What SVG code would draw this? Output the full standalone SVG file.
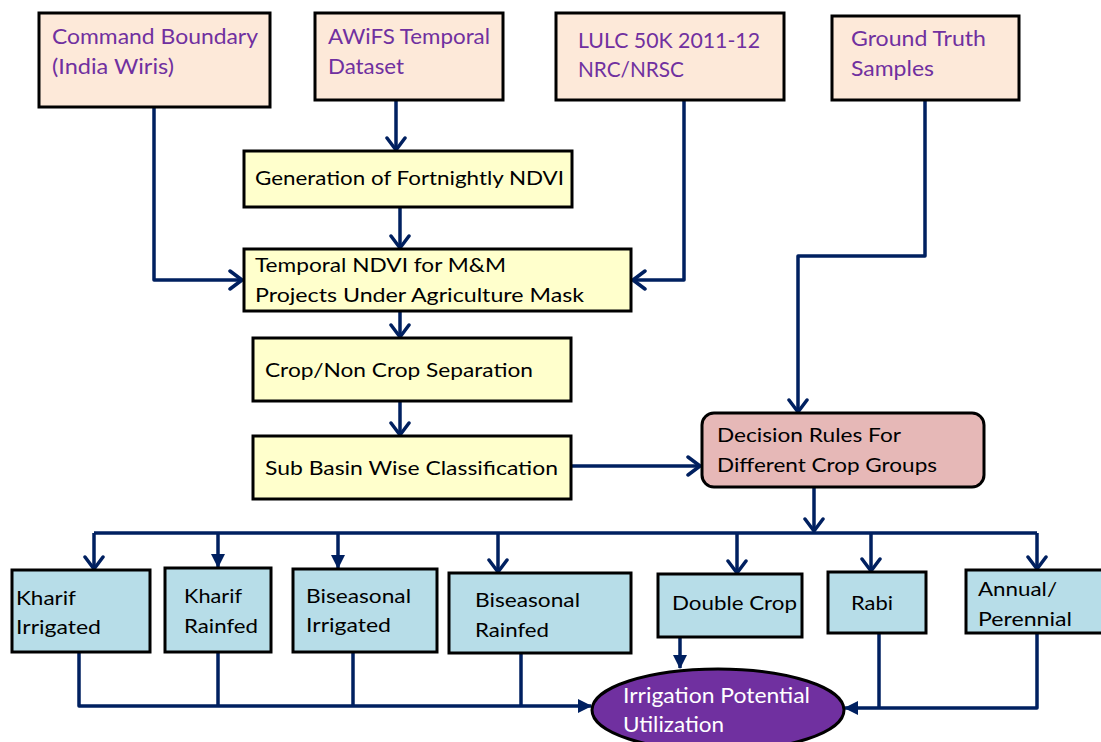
<svg xmlns="http://www.w3.org/2000/svg" width="1101" height="742" viewBox="0 0 1101 742">
<style>
.box{stroke:#000;stroke-width:3}
.src{fill:#fde9d9}
.proc{fill:#ffffcc}
.dec{fill:#e6b8b7}
.cls{fill:#b7dde8}
.t{font-family:Lato,"Open Sans",sans-serif;font-size:20px;fill:#000}
.tp{font-family:Lato,"Open Sans",sans-serif;font-size:21px;fill:#7030a0}
.tw{font-family:Lato,"Open Sans",sans-serif;font-size:21px;fill:#fff}
.c{fill:none;stroke:#002060;stroke-width:3.5;stroke-linejoin:round}
.o{marker-end:url(#open)}
.f{marker-end:url(#fill)}
</style>
<defs>
<marker id="open" markerUnits="userSpaceOnUse" viewBox="0 0 16 22" markerWidth="16" markerHeight="22" refX="14" refY="11" orient="auto">
<path d="M2,2 L14,11 L2,20" fill="none" stroke="#002060" stroke-width="3.5" stroke-linecap="round" stroke-linejoin="round"/>
</marker>
<marker id="fill" markerUnits="userSpaceOnUse" viewBox="0 0 14 14" markerWidth="14" markerHeight="14" refX="13" refY="7" orient="auto">
<path d="M0,0 L14,7 L0,14 Z" fill="#002060"/>
</marker>
</defs>
<rect width="1101" height="742" fill="#fff"/>
<g id="connectors">
<path class="c o" d="M154 107 V280 H242"/>
<path class="c o" d="M396 100 V150"/>
<path class="c o" d="M400 207 V248"/>
<path class="c o" d="M684 100 V280 H633"/>
<path class="c o" d="M400 312 V337"/>
<path class="c o" d="M400 401 V435"/>
<path class="c o" d="M925 100 V256 H798 V412"/>
<path class="c o" d="M571 466 H700"/>
<path class="c o" d="M814 487 V531"/>
<path class="c" d="M94 533 H1037"/>
<path class="c o" d="M94 533 V569"/>
<path class="c f" d="M218 533 V567"/>
<path class="c f" d="M338 533 V568"/>
<path class="c o" d="M498 533 V572"/>
<path class="c o" d="M737 533 V573"/>
<path class="c o" d="M871 533 V571"/>
<path class="c o" d="M1037 533 V569"/>
<path class="c f" d="M79 652 V706 H591"/>
<path class="c" d="M218 652 V706"/>
<path class="c" d="M353 652 V706"/>
<path class="c" d="M521 653 V706"/>
<path class="c f" d="M680 637 V668"/>
<path class="c f" d="M1037 633 V708 H845"/>
<path class="c" d="M879 633 V708"/>
</g>
<g id="command-boundary">
<rect class="box src" x="39" y="13" width="231" height="94"/>
<text class="tp" x="52" y="44" textLength="206" lengthAdjust="spacingAndGlyphs">Command Boundary</text>
<text class="tp" x="52" y="74" textLength="122" lengthAdjust="spacingAndGlyphs">(India Wiris)</text>
</g>
<g id="awifs">
<rect class="box src" x="315" y="13" width="188" height="87"/>
<text class="tp" x="328" y="44" textLength="162" lengthAdjust="spacingAndGlyphs">AWiFS Temporal</text>
<text class="tp" x="328" y="74" textLength="76" lengthAdjust="spacingAndGlyphs">Dataset</text>
</g>
<g id="lulc">
<rect class="box src" x="556" y="13" width="228" height="87"/>
<text class="tp" x="578" y="48" textLength="182" lengthAdjust="spacingAndGlyphs">LULC 50K 2011-12</text>
<text class="tp" x="578" y="77" textLength="106" lengthAdjust="spacingAndGlyphs">NRC/NRSC</text>
</g>
<g id="ground-truth">
<rect class="box src" x="832" y="16" width="187" height="84"/>
<text class="tp" x="851" y="46" textLength="135" lengthAdjust="spacingAndGlyphs">Ground Truth</text>
<text class="tp" x="851" y="76" textLength="83" lengthAdjust="spacingAndGlyphs">Samples</text>
</g>
<g id="gen-ndvi">
<rect class="box proc" x="244" y="151" width="328" height="56"/>
<text class="t" x="255" y="185" textLength="309" lengthAdjust="spacingAndGlyphs">Generation of Fortnightly NDVI</text>
</g>
<g id="temporal-ndvi">
<rect class="box proc" x="244" y="249" width="387" height="62"/>
<text class="t" x="255" y="272" textLength="251" lengthAdjust="spacingAndGlyphs">Temporal NDVI for M&amp;M</text>
<text class="t" x="255" y="302" textLength="329" lengthAdjust="spacingAndGlyphs">Projects Under Agriculture Mask</text>
</g>
<g id="crop-noncrop">
<rect class="box proc" x="253" y="338" width="318" height="63"/>
<text class="t" x="265" y="377" textLength="268" lengthAdjust="spacingAndGlyphs">Crop/Non Crop Separation</text>
</g>
<g id="sub-basin">
<rect class="box proc" x="253" y="436" width="318" height="63"/>
<text class="t" x="265" y="475" textLength="293" lengthAdjust="spacingAndGlyphs">Sub Basin Wise Classification</text>
</g>
<g id="decision-rules">
<rect class="box dec" x="702" y="413" width="282" height="74" rx="12"/>
<text class="t" x="717" y="442" textLength="184" lengthAdjust="spacingAndGlyphs">Decision Rules For</text>
<text class="t" x="717" y="472" textLength="220" lengthAdjust="spacingAndGlyphs">Different Crop Groups</text>
</g>
<g id="kharif-irrigated">
<rect class="box cls" x="12" y="570" width="138" height="82"/>
<text class="t" x="16" y="605" textLength="60" lengthAdjust="spacingAndGlyphs">Kharif</text>
<text class="t" x="16" y="634" textLength="85" lengthAdjust="spacingAndGlyphs">Irrigated</text>
</g>
<g id="kharif-rainfed">
<rect class="box cls" x="165" y="568" width="106" height="84"/>
<text class="t" x="184" y="603" textLength="58" lengthAdjust="spacingAndGlyphs">Kharif</text>
<text class="t" x="184" y="633" textLength="74" lengthAdjust="spacingAndGlyphs">Rainfed</text>
</g>
<g id="biseasonal-irrigated">
<rect class="box cls" x="293" y="569" width="144" height="83"/>
<text class="t" x="306" y="603" textLength="105" lengthAdjust="spacingAndGlyphs">Biseasonal</text>
<text class="t" x="306" y="632" textLength="85" lengthAdjust="spacingAndGlyphs">Irrigated</text>
</g>
<g id="biseasonal-rainfed">
<rect class="box cls" x="449" y="573" width="182" height="80"/>
<text class="t" x="475" y="607" textLength="105" lengthAdjust="spacingAndGlyphs">Biseasonal</text>
<text class="t" x="475" y="637" textLength="74" lengthAdjust="spacingAndGlyphs">Rainfed</text>
</g>
<g id="double-crop">
<rect class="box cls" x="658" y="574" width="144" height="63"/>
<text class="t" x="672" y="610" textLength="125" lengthAdjust="spacingAndGlyphs">Double Crop</text>
</g>
<g id="rabi">
<rect class="box cls" x="828" y="572" width="98" height="61"/>
<text class="t" x="851" y="610" textLength="42" lengthAdjust="spacingAndGlyphs">Rabi</text>
</g>
<g id="annual-perennial">
<rect class="box cls" x="966" y="570" width="140" height="63"/>
<text class="t" x="978" y="596" textLength="79" lengthAdjust="spacingAndGlyphs">Annual/</text>
<text class="t" x="978" y="626" textLength="94" lengthAdjust="spacingAndGlyphs">Perennial</text>
</g>
<g id="irrigation-potential">
<ellipse cx="718" cy="710" rx="126" ry="41" fill="#7030a0" stroke="#000" stroke-width="3"/>
<text class="tw" x="623" y="703" textLength="187" lengthAdjust="spacingAndGlyphs">Irrigation Potential</text>
<text class="tw" x="623" y="732" textLength="101" lengthAdjust="spacingAndGlyphs">Utilization</text>
</g>
</svg>
